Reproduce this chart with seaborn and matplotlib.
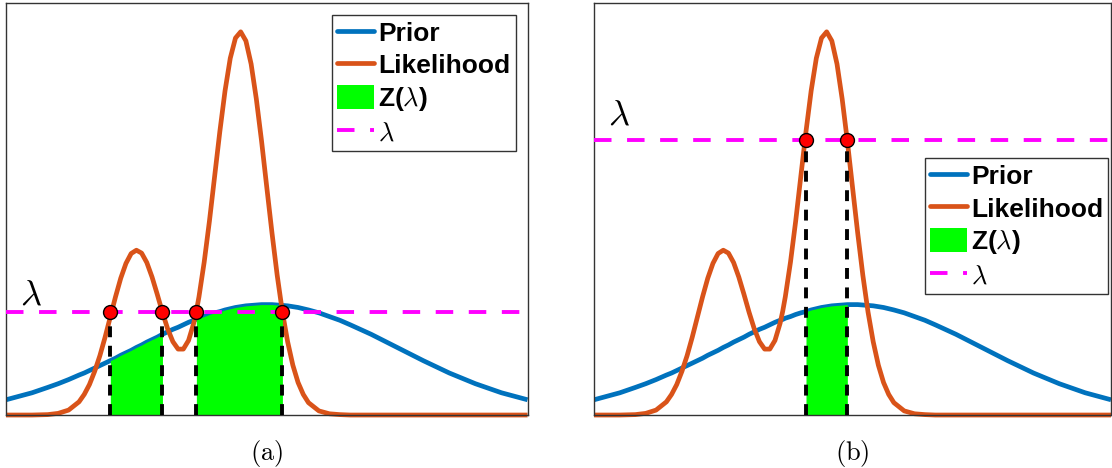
import numpy as np
import pandas as pd
import matplotlib.pyplot as plt
from matplotlib.lines import Line2D
from matplotlib.patches import Patch
import seaborn as sns

# positions along the (unlabelled) x axis, axis runs 0..1
x_pos = [0.00, 0.05, 0.08, 0.10, 0.12, 0.14, 0.15, 0.16, 0.17, 0.18, 0.19, 0.20,
         0.21, 0.22, 0.23, 0.24, 0.25, 0.26, 0.27, 0.28, 0.29, 0.30, 0.31, 0.32,
         0.33, 0.34, 0.35, 0.36, 0.365, 0.37, 0.38, 0.39, 0.40, 0.41, 0.42, 0.43,
         0.44, 0.45, 0.46, 0.47, 0.48, 0.49, 0.50, 0.51, 0.52, 0.53, 0.54, 0.55,
         0.56, 0.57, 0.58, 0.60, 0.62, 0.64, 0.66, 0.70, 0.75, 0.80, 0.85, 0.90,
         0.95, 1.00]

# prior (blue)
prior = [0.037, 0.054, 0.067, 0.076, 0.086, 0.097, 0.102, 0.108, 0.114, 0.120, 0.126, 0.132,
         0.138, 0.145, 0.151, 0.157, 0.164, 0.170, 0.177, 0.183, 0.189, 0.196, 0.202, 0.208,
         0.213, 0.219, 0.225, 0.230, 0.232, 0.235, 0.239, 0.244, 0.248, 0.251, 0.255, 0.258,
         0.261, 0.263, 0.265, 0.266, 0.267, 0.268, 0.268, 0.268, 0.267, 0.266, 0.265, 0.263,
         0.261, 0.258, 0.255, 0.248, 0.239, 0.230, 0.219, 0.196, 0.164, 0.132, 0.102, 0.076,
         0.054, 0.037]

# likelihood (orange)
likelihood = [0.000, 0.000, 0.001, 0.004, 0.012, 0.032, 0.050, 0.074, 0.106, 0.144, 0.189, 0.238,
              0.287, 0.332, 0.368, 0.392, 0.400, 0.393, 0.370, 0.335, 0.293, 0.249, 0.209, 0.178,
              0.160, 0.160, 0.181, 0.223, 0.252, 0.287, 0.371, 0.470, 0.579, 0.688, 0.787, 0.866,
              0.915, 0.930, 0.908, 0.852, 0.767, 0.665, 0.553, 0.442, 0.339, 0.250, 0.178, 0.121,
              0.079, 0.050, 0.030, 0.010, 0.003, 0.001, 0.000, 0.000, 0.000, 0.000, 0.000, 0.000,
              0.000, 0.000]

# threshold lambda and where it crosses the likelihood, per panel
lam_a = 0.250
cross_a = [0.20, 0.30, 0.365, 0.53]
lam_b = 0.668
cross_b = [0.41, 0.49]

df = pd.DataFrame({'x': x_pos, 'prior': prior, 'likelihood': likelihood})

sns.set_theme(style='white')
plt.rcParams['font.family'] = ['Liberation Sans', 'DejaVu Sans']
plt.rcParams['mathtext.fontset'] = 'cm'
plt.rcParams['text.color'] = 'black'

BLUE = '#0072BD'
ORANGE = '#D95319'
GREEN = '#00FF00'
MAGENTA = '#FF00FF'

fig = plt.figure(figsize=(11.12, 4.68), dpi=100)
ax_a = fig.add_axes([0.0054, 0.1132, 0.469, 0.8804])
ax_b = fig.add_axes([0.5342, 0.1132, 0.4649, 0.8804])


def draw_panel(ax, lam, cross, lab_y):
    sns.lineplot(data=df, x='x', y='prior', ax=ax, color=BLUE, lw=3.4,
                 solid_capstyle='butt', solid_joinstyle='round', zorder=2)
    sns.lineplot(data=df, x='x', y='likelihood', ax=ax, color=ORANGE, lw=3.4,
                 solid_capstyle='butt', solid_joinstyle='round', clip_on=False, zorder=2.2)

    # Z(lambda): prior mass where likelihood is above lambda
    xs = df['x'].to_numpy()
    for c0, c1 in zip(cross[0::2], cross[1::2]):
        ax.fill_between(xs, 0, df['prior'], where=(xs >= c0) & (xs <= c1),
                        color=GREEN, lw=0, zorder=2.5)

    ax.axhline(lam, color=MAGENTA, lw=2.8, dashes=(4.5, 4.0), zorder=2.6)
    for c in cross:
        ax.plot([c, c], [0, lam], color='black', lw=2.8, dashes=(2.8, 2.2), zorder=2.7)
    ax.scatter(cross, [lam] * len(cross), s=100, color='red', edgecolor='black',
               linewidth=1, zorder=5)

    ax.text(0.027, lab_y, r'$\lambda$', fontsize=26, color='black', va='baseline')

    ax.set_xlim(0, 1)
    ax.set_ylim(0, 1)
    ax.set_xticks([])
    ax.set_yticks([])
    ax.set_xlabel('')
    ax.set_ylabel('')
    for s in ax.spines.values():
        s.set_color('#333333')
        s.set_linewidth(1.0)


draw_panel(ax_a, lam_a, cross_a, 0.269)
draw_panel(ax_b, lam_b, cross_b, 0.704)

handles = [Line2D([], [], color=BLUE, lw=3.4),
           Line2D([], [], color=ORANGE, lw=3.4),
           Patch(facecolor=GREEN, edgecolor='none'),
           Line2D([], [], color=MAGENTA, lw=2.8, dashes=(4.5, 4.0))]
labels = ['Prior', 'Likelihood', r'Z($\lambda$)', r'$\lambda$']
leg_kw = dict(prop={'weight': 'bold', 'size': 19}, handlelength=1.4, handleheight=1.0,
              handletextpad=0.15, labelspacing=0.25, borderpad=0.2, fancybox=False,
              framealpha=1, edgecolor='#333333', labelcolor='black')

leg = ax_a.legend(handles, labels, loc='upper right', borderaxespad=0.45, **leg_kw)
leg.get_frame().set_linewidth(1.0)
leg = ax_b.legend(handles, labels, loc='center right', bbox_to_anchor=(1.0, 0.459),
                  borderaxespad=0.1, **leg_kw)
leg.get_frame().set_linewidth(1.0)

fig.text(0.2395, 0.030, r'$\mathrm{(a)}$', fontsize=19, ha='center', va='center')
fig.text(0.7665, 0.030, r'$\mathrm{(b)}$', fontsize=19, ha='center', va='center')

fig.savefig('out.png', dpi=100)
